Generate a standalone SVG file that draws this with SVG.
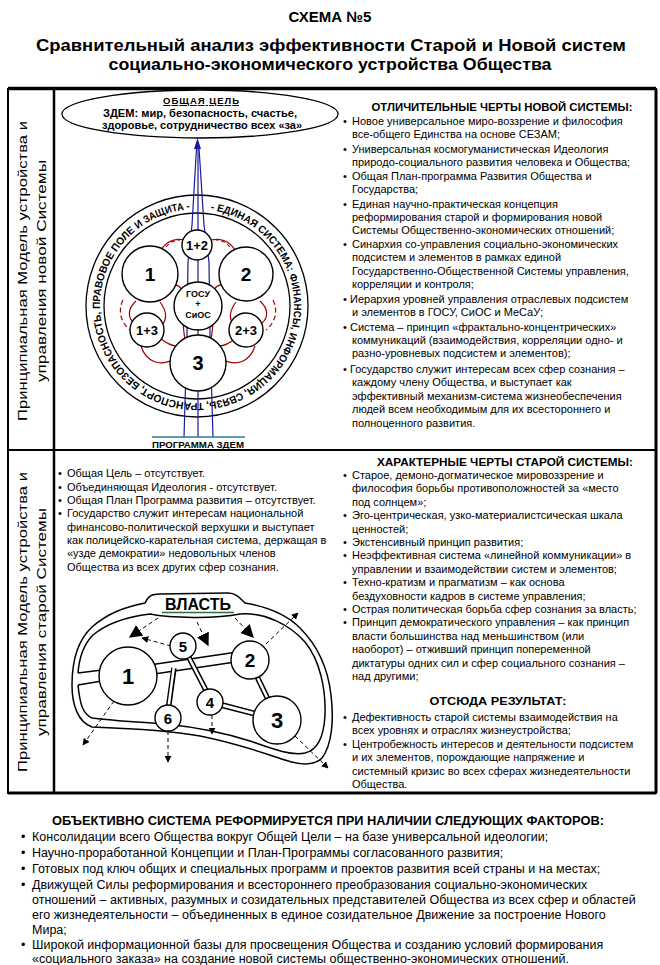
<svg xmlns="http://www.w3.org/2000/svg" width="660" height="965" viewBox="0 0 660 965">
<style>
text{font-family:"Liberation Sans",Arial,sans-serif;fill:#000}
.t{font-size:11px}
.tb{font-size:12.5px}
.hb{font-weight:bold}
.side{font-size:13px}
.mid{text-anchor:middle}
.rt{font-weight:bold;font-size:10.5px}
.circ{fill:#fff;stroke:#000;stroke-width:1.4}
.ring{fill:none;stroke:#000;stroke-width:1.3}
.blue{fill:none;stroke:#1a1a9c;stroke-width:1.2}
.red{fill:none;stroke:#a00000;stroke-width:1.2}
.dash{fill:none;stroke:#000;stroke-width:1;stroke-dasharray:4,3}
.cb{stroke:#000;stroke-linecap:butt}
.cw{stroke:#fff;stroke-linecap:butt}
.num{font-weight:bold;text-anchor:middle}
</style>
<defs>
<marker id="ah" viewBox="0 0 10 10" refX="9" refY="5" markerWidth="7" markerHeight="7" markerUnits="userSpaceOnUse" orient="auto"><path d="M0,0 L10,5 L0,10 z" fill="#000"/></marker>
<marker id="ahb" viewBox="0 0 10 10" refX="9" refY="5" markerWidth="13" markerHeight="13" markerUnits="userSpaceOnUse" orient="auto"><path d="M0,0 L10,5 L0,10 z" fill="#000"/></marker>
<path id="ringPath" d="M197,209 A97,97 0 0,1 197,403 A97,97 0 0,1 197,209"/>
</defs>
<rect width="660" height="965" fill="#fff"/>

<g id="title">
<text x="330" y="22" class="hb mid" font-size="15">СХЕМА №5</text>
<text x="331" y="51" class="hb mid" font-size="17" textLength="590" lengthAdjust="spacingAndGlyphs">Сравнительный анализ эффективности Старой и Новой систем</text>
<text x="330" y="70" class="hb mid" font-size="17" textLength="443" lengthAdjust="spacingAndGlyphs">социально-экономического устройства Общества</text>
</g>

<g id="table">
<rect x="8" y="89" width="648" height="704" fill="none" stroke="#000" stroke-width="2"/>
<line x1="8" y1="88.5" x2="656" y2="88.5" stroke="#000" stroke-width="3.5"/>
<line x1="54" y1="89" x2="54" y2="793" stroke="#000" stroke-width="2.5"/>
<line x1="8" y1="450" x2="656" y2="450" stroke="#000" stroke-width="1.8"/>
<line x1="8" y1="793" x2="656" y2="793" stroke="#000" stroke-width="3"/>
<line x1="656" y1="89" x2="656" y2="793" stroke="#000" stroke-width="3"/>
</g>

<g id="side-labels">
<text class="side mid" transform="translate(27,271) rotate(-90)" textLength="300" lengthAdjust="spacingAndGlyphs">Принципиальная Модель устройства и</text>
<text class="side mid" transform="translate(46,271) rotate(-90)" textLength="222" lengthAdjust="spacingAndGlyphs">управления новой Системы</text>
<text class="side mid" transform="translate(27,622) rotate(-90)" textLength="300" lengthAdjust="spacingAndGlyphs">Принципиальная Модель устройства и</text>
<text class="side mid" transform="translate(46,622) rotate(-90)" textLength="228" lengthAdjust="spacingAndGlyphs">управления старой Системы</text>
</g>

<!-- NEW SYSTEM DIAGRAM -->
<g id="goal">
<ellipse cx="200" cy="114" rx="138" ry="24" fill="#fff" stroke="#000" stroke-width="1.3"/>
<text x="201" y="104" class="hb mid" font-size="9.5" text-decoration="underline" textLength="76">ОБЩАЯ ЦЕЛЬ</text>
<text x="200" y="117" class="hb mid" font-size="10" textLength="194" lengthAdjust="spacingAndGlyphs">ЗДЕМ: мир, безопасность, счастье,</text>
<text x="202" y="129" class="hb mid" font-size="10" textLength="200" lengthAdjust="spacingAndGlyphs">здоровье, сотрудничество всех «за»</text>
</g>

<g id="ring">
<circle cx="197" cy="306" r="111" class="ring"/>
<circle cx="197" cy="306" r="93" class="ring"/>
<text class="rt"><textPath href="#ringPath" startOffset="13.5" textLength="48.4" lengthAdjust="spacingAndGlyphs">- ЕДИНАЯ</textPath></text>
<text class="rt"><textPath href="#ringPath" startOffset="64.6" textLength="53" lengthAdjust="spacingAndGlyphs">СИСТЕМА:</textPath></text>
<text class="rt"><textPath href="#ringPath" startOffset="120.3" textLength="55.6" lengthAdjust="spacingAndGlyphs">ФИНАНСЫ,</textPath></text>
<text class="rt"><textPath href="#ringPath" startOffset="178.6" textLength="36.9" lengthAdjust="spacingAndGlyphs">ИНФОР</textPath></text>
<text class="rt"><textPath href="#ringPath" startOffset="215.5" textLength="40" lengthAdjust="spacingAndGlyphs">МАЦИЯ,</textPath></text>
<text class="rt"><textPath href="#ringPath" startOffset="258.2" textLength="36.8" lengthAdjust="spacingAndGlyphs">СВЯЗЬ,</textPath></text>
<text class="rt"><textPath href="#ringPath" startOffset="297.7" textLength="64.4" lengthAdjust="spacingAndGlyphs">ТРАНСПОРТ,</textPath></text>
<text class="rt"><textPath href="#ringPath" startOffset="364.8" textLength="34.1" lengthAdjust="spacingAndGlyphs">БЕЗОП</textPath></text>
<text class="rt"><textPath href="#ringPath" startOffset="398.9" textLength="51.7" lengthAdjust="spacingAndGlyphs">АСНОСТЬ,</textPath></text>
<text class="rt"><textPath href="#ringPath" startOffset="453.3" textLength="57.3" lengthAdjust="spacingAndGlyphs">ПРАВОВОЕ</textPath></text>
<text class="rt"><textPath href="#ringPath" startOffset="513.3" textLength="38.5" lengthAdjust="spacingAndGlyphs">ПОЛЕ И</textPath></text>
<text class="rt"><textPath href="#ringPath" startOffset="554.5" textLength="46.8" lengthAdjust="spacingAndGlyphs">ЗАЩИТА -</textPath></text>
</g>

<g id="links-new">
<polyline class="blue" points="184,437 187,335 188,262 192,225 196.5,148"/>
<line class="blue" x1="198" y1="437" x2="198" y2="148"/>
<polyline class="blue" points="213,437 210,335 209,262 204,225 199,148"/>
<polygon points="197.5,138 194,149 201,149" fill="#1a1a9c"/>
<line x1="152" y1="437" x2="245" y2="437" stroke="#2a7aa0" stroke-width="1.6"/>
<g id="red-arcs-left">
<path class="red" d="M158,259 C161,244 172,237 185,240"/>
<path class="red" d="M166,247 C170,242 175,240 180,240" stroke-dasharray="4,3"/>
<path class="red" d="M168,285 C180,283 185,290 181,298"/>
<path class="red" d="M136,301 C127,309 128,318 134,323"/>
<path class="red" d="M160,302 C166,310 167,318 163,324"/>
<path class="red" d="M141,346 C146,362 160,367 174,359"/>
<path class="red" d="M160,338 C166,343 171,346 177,346"/>
<path class="red" d="M176,302 C186,318 182,334 186,342"/>
<path class="red" d="M123,300 C118,310 120,322 130,330" stroke-dasharray="5,3"/>
</g>
<use href="#red-arcs-left" transform="matrix(-1,0,0,1,396,0)"/>
</g>

<g id="n-12"><circle cx="197" cy="245" r="15" class="circ"/><text x="197" y="250" class="num" font-size="13">1+2</text></g>
<g id="n-1"><circle cx="150" cy="274" r="28" class="circ"/><text x="150" y="281" class="num" font-size="19">1</text></g>
<g id="n-2"><circle cx="246" cy="274" r="27" class="circ"/><text x="246" y="281" class="num" font-size="19">2</text></g>
<g id="n-gosu"><circle cx="198" cy="306" r="24" class="circ"/>
<text x="198" y="297" class="num" font-size="9">ГОСУ</text>
<text x="198" y="307" class="num" font-size="9">+</text>
<text x="198" y="318" class="num" font-size="9">СиОС</text></g>
<g id="n-13"><circle cx="147" cy="330" r="17" class="circ"/><text x="147" y="335" class="num" font-size="13">1+3</text></g>
<g id="n-23"><circle cx="246" cy="330" r="17" class="circ"/><text x="246" y="335" class="num" font-size="13">2+3</text></g>
<g id="n-3"><circle cx="198" cy="363" r="28" class="circ"/><text x="198" y="370" class="num" font-size="20">3</text></g>
<g id="program"><text x="198" y="448" class="hb mid" font-size="9.5" textLength="92" lengthAdjust="spacingAndGlyphs">ПРОГРАММА ЗДЕМ</text></g>

<!-- NEW SYSTEM TEXT -->
<g id="new-features" class="t">
<text x="502" y="111" class="hb mid" textLength="261" lengthAdjust="spacingAndGlyphs">ОТЛИЧИТЕЛЬНЫЕ ЧЕРТЫ НОВОЙ СИСТЕМЫ:</text>
<text x="343" y="125">•</text><text x="352" y="125">Новое универсальное миро-воззрение и философия</text>
<text x="352" y="138">все-общего Единства на основе СЕЗАМ;</text>
<text x="343" y="153">•</text><text x="352" y="153">Универсальная космогуманистическая Идеология</text>
<text x="352" y="166">природо-социального развития человека и Общества;</text>
<text x="343" y="180">•</text><text x="352" y="180">Общая План-программа Развития Общества и</text>
<text x="352" y="193">Государства;</text>
<text x="343" y="208">•</text><text x="352" y="208">Единая научно-практическая концепция</text>
<text x="352" y="221">реформирования старой и формирования новой</text>
<text x="352" y="234">Системы Общественно-экономических отношений;</text>
<text x="343" y="248">•</text><text x="352" y="248">Синархия со-управления социально-экономических</text>
<text x="352" y="261">подсистем и элементов в рамках единой</text>
<text x="352" y="275">Государственно-Общественной Системы управления,</text>
<text x="352" y="288">корреляции и контроля;</text>
<text x="343" y="303">•</text><text x="350" y="303">Иерархия уровней управления отраслевых подсистем</text>
<text x="352" y="316">и элементов в ГОСУ, СиОС и МеСаУ;</text>
<text x="343" y="331">•</text><text x="350" y="331">Система – принцип «фрактально-концентрических»</text>
<text x="352" y="344">коммуникаций (взаимодействия, корреляции одно- и</text>
<text x="352" y="357">разно-уровневых подсистем и элементов);</text>
<text x="343" y="373">•</text><text x="350" y="373">Государство служит интересам всех сфер сознания –</text>
<text x="352" y="386">каждому члену Общества, и выступает как</text>
<text x="352" y="400">эффективный механизм-система жизнеобеспечения</text>
<text x="352" y="413">людей всем необходимым для их всестороннего и</text>
<text x="352" y="427">полноценного развития.</text>
</g>

<!-- OLD SYSTEM TEXT LEFT -->
<g id="old-absent" class="t">
<text x="58" y="477">•</text><text x="67" y="477">Общая Цель – отсутствует.</text>
<text x="58" y="491">•</text><text x="67" y="491">Объединяющая Идеология - отсутствует.</text>
<text x="58" y="504">•</text><text x="67" y="504">Общая План Программа развития – отсутствует.</text>
<text x="58" y="517">•</text><text x="67" y="517">Государство служит интересам национальной</text>
<text x="67" y="531">финансово-политической верхушки и выступает</text>
<text x="67" y="544">как полицейско-карательная система, держащая в</text>
<text x="67" y="557">«узде демократии» недовольных членов</text>
<text x="67" y="571">Общества из всех других сфер сознания.</text>
</g>

<!-- OLD SYSTEM TEXT RIGHT -->
<g id="old-features" class="t">
<text x="505" y="466" class="hb mid" textLength="256" lengthAdjust="spacingAndGlyphs">ХАРАКТЕРНЫЕ ЧЕРТЫ СТАРОЙ СИСТЕМЫ:</text>
<text x="343" y="479">•</text><text x="352" y="479">Старое, демоно-догматическое мировоззрение и</text>
<text x="352" y="492">философия борьбы противоположностей за «место</text>
<text x="352" y="506">под солнцем»;</text>
<text x="343" y="519">•</text><text x="352" y="519">Эго-центрическая, узко-материалистсическая шкала</text>
<text x="352" y="533">ценностей;</text>
<text x="343" y="546">•</text><text x="352" y="546">Экстенсивный принцип развития;</text>
<text x="343" y="559">•</text><text x="352" y="559">Неэффективная система «линейной коммуникации» в</text>
<text x="352" y="573">управлении и взаимодействии систем и элементов;</text>
<text x="343" y="586">•</text><text x="352" y="586">Техно-кратизм и прагматизм – как основа</text>
<text x="352" y="600">бездуховности кадров в системе управления;</text>
<text x="343" y="613">•</text><text x="352" y="613">Острая политическая борьба сфер сознания за власть;</text>
<text x="343" y="626">•</text><text x="352" y="626">Принцип демократического управления – как принцип</text>
<text x="352" y="640">власти большинства над  меньшинством (или</text>
<text x="352" y="653">наоборот) – отживший принцип попеременной</text>
<text x="352" y="667">диктатуры одних сил и сфер социального сознания –</text>
<text x="352" y="680">над другими;</text>
<text x="498" y="705" class="hb mid" textLength="137" lengthAdjust="spacingAndGlyphs">ОТСЮДА РЕЗУЛЬТАТ:</text>
<text x="343" y="721">•</text><text x="352" y="721">Дефективность старой системы взаимодействия на</text>
<text x="352" y="734">всех уровнях и отраслях жизнеустройства;</text>
<text x="343" y="748">•</text><text x="352" y="748">Центробежность интересов и деятельности подсистем</text>
<text x="352" y="761">и их элементов, порождающие напряжение и</text>
<text x="352" y="775">системный кризис во всех сферах жизнедеятельности</text>
<text x="352" y="788">Общества.</text>
</g>

<!-- OLD SYSTEM DIAGRAM -->
<g id="power-field">
<path d="M145,603 C148,596 152,594 160,594 L228,593 C236,593 240,598 245,603 C262,606 285,613 300,628 C318,646 328,668 331,695 C334,720 332,745 322,758 C314,766 300,765 285,760 C260,752 240,744 200,736 C160,729 120,728 92,727 C78,722 72,705 72,685 C72,660 78,640 92,627 C108,613 125,607 145,603 Z" fill="none" stroke="#000" stroke-width="1.5"/>
<path d="M78,685 C80,705 83,714 92,718 C115,721 140,722 165,724 C195,727 225,733 250,741 C270,748 290,756 305,753 C318,750 324,735 325,715 C326,690 320,660 305,642 C290,625 265,612 240,614 C215,619 170,618 150,614 C125,617 105,625 93,635 C83,645 79,660 78,673" fill="none" stroke="#000" stroke-width="1.5"/>
<text x="198" y="610" class="hb mid" font-size="16" fill="#111">ВЛАСТЬ</text>
<line x1="162" y1="612.5" x2="234" y2="612.5" stroke="#2e6b3a" stroke-width="1.5"/>
</g>

<g id="links-old">
<line x1="78" y1="673" x2="102" y2="670" stroke="#000" stroke-width="1.5"/>
<line x1="78" y1="685" x2="102" y2="681" stroke="#000" stroke-width="1.5"/>
<line class="cb" x1="128" y1="673" x2="250" y2="655" stroke-width="11"/>
<line class="cw" x1="128" y1="673" x2="250" y2="655" stroke-width="8"/>
<line class="cb" x1="174" y1="668" x2="167" y2="718" stroke-width="5.5"/>
<line class="cw" x1="174" y1="666" x2="167" y2="718" stroke-width="2.5"/>
<line class="cb" x1="183" y1="646" x2="212" y2="702" stroke-width="5.5"/>
<line class="cw" x1="183" y1="646" x2="212" y2="702" stroke-width="2.5"/>
<line class="cb" x1="250" y1="662" x2="277" y2="718" stroke-width="5.5"/>
<line class="cw" x1="250" y1="662" x2="277" y2="718" stroke-width="2.5"/>
<line class="cb" x1="210" y1="702" x2="277" y2="719.5" stroke-width="6"/>
<line class="cw" x1="210" y1="702" x2="277" y2="719.5" stroke-width="3"/>
<line class="dash" x1="158" y1="618" x2="130" y2="637" marker-end="url(#ahb)"/>
<line class="dash" x1="197" y1="622" x2="208" y2="645" marker-end="url(#ahb)"/>
<line class="dash" x1="235" y1="618" x2="253" y2="637" marker-end="url(#ahb)"/>
<line class="dash" x1="171" y1="646" x2="142" y2="638" marker-end="url(#ah)"/>
<line class="dash" x1="266" y1="644" x2="298" y2="613" marker-end="url(#ah)"/>
<line class="dash" x1="114" y1="701" x2="83" y2="745" marker-end="url(#ah)"/>
<line class="dash" x1="168" y1="731" x2="168" y2="762" marker-end="url(#ah)"/>
<line class="dash" x1="212" y1="715" x2="212" y2="734" marker-end="url(#ah)"/>
<line class="dash" x1="295" y1="736" x2="328" y2="768" marker-end="url(#ah)"/>
</g>

<g id="o-1"><circle cx="128" cy="676" r="29" class="circ"/><text x="128" y="684" class="num" font-size="22">1</text></g>
<g id="o-2"><circle cx="250" cy="660" r="19" class="circ"/><text x="250" y="667" class="num" font-size="19">2</text></g>
<g id="o-5"><circle cx="183" cy="646" r="13" class="circ"/><text x="183" y="651.5" class="num" font-size="15">5</text></g>
<g id="o-4"><circle cx="210" cy="702" r="13" class="circ"/><text x="210" y="707.5" class="num" font-size="15">4</text></g>
<g id="o-6"><circle cx="168" cy="718" r="13" class="circ"/><text x="168" y="723.5" class="num" font-size="15">6</text></g>
<g id="o-3"><circle cx="277" cy="720" r="24" class="circ"/><text x="277" y="728" class="num" font-size="22">3</text></g>

<!-- BOTTOM FACTORS -->
<g id="factors" class="tb">
<text x="328" y="825" class="hb mid" textLength="552" lengthAdjust="spacingAndGlyphs">ОБЪЕКТИВНО СИСТЕМА РЕФОРМИРУЕТСЯ ПРИ НАЛИЧИИ СЛЕДУЮЩИХ ФАКТОРОВ:</text>
<text x="21" y="841">•</text><text x="32" y="841">Консолидации всего Общества вокруг Общей Цели – на базе универсальной идеологии;</text>
<text x="21" y="857">•</text><text x="32" y="857">Научно-проработанной Концепции и План-Программы согласованного развития;</text>
<text x="21" y="873">•</text><text x="32" y="873">Готовых под ключ общих и специальных программ и проектов развития всей страны и на местах;</text>
<text x="21" y="889">•</text><text x="32" y="889">Движущей Силы реформирования и всестороннего преобразования социально-экономических</text>
<text x="32" y="904">отношений – активных, разумных и созидательных представителей Общества из всех сфер и областей</text>
<text x="32" y="919">его жизнедеятельности – объединенных в единое созидательное Движение за построение Нового</text>
<text x="32" y="934">Мира;</text>
<text x="21" y="949">•</text><text x="32" y="949">Широкой информационной базы для просвещения Общества и созданию условий формирования</text>
<text x="32" y="963">«социального заказа» на создание новой системы общественно-экономических отношений.</text>
</g>
</svg>
